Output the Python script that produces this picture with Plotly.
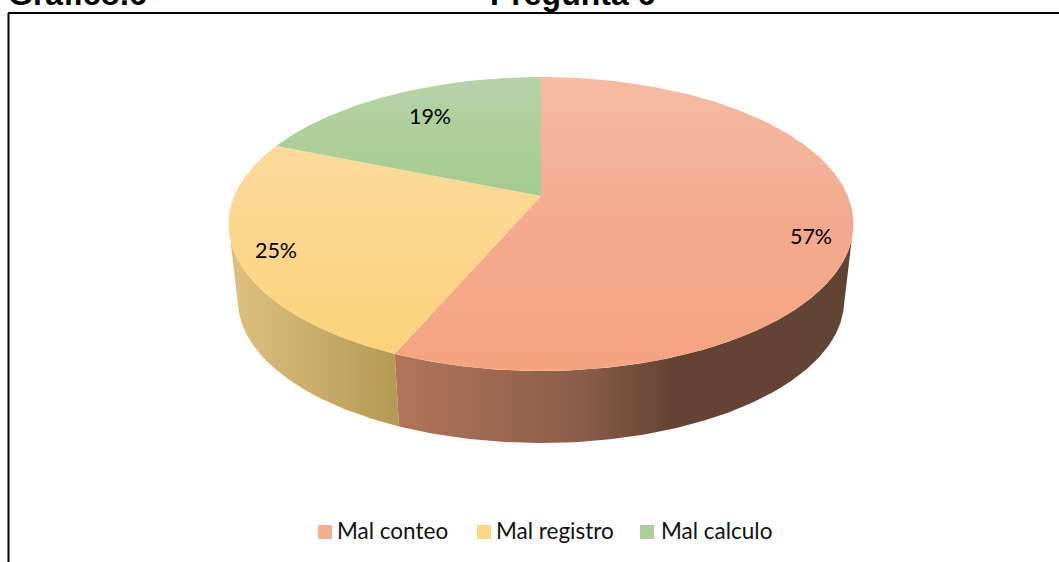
import numpy as np
import plotly.graph_objects as go

# ---- data ----
categories = ["Mal conteo", "Mal registro", "Mal calculo"]
values = [57, 25, 19]
value_labels = ["57%", "25%", "19%"]

# ---- styles ----
top_scales = [
    [[0, "#F4BCA3"], [0.5, "#F3AA8C"], [1, "#F5A381"]],
    [[0, "#FDDA9C"], [0.5, "#FCD68B"], [1, "#FBD27A"]],
    [[0, "#B6D3A7"], [1, "#A4CB8E"]],
]
legend_colors = ["#F6AE92", "#FDD788", "#ABCF96"]
FONT = "Lato"
W, H = 1059, 562

# perspective projection of the pie disc onto the page
CX, APEX_Y, RADIUS_X, RADIUS_Y, PERSP = 541, 196, 306.8, 104.3, -0.1905
BOTTOM_SCALE, BOTTOM_Y = 0.97, 273.3


def project(theta_deg, bottom=False):
    t = np.radians(theta_deg)
    u, v = np.sin(t), -np.cos(t)
    d = 1 + PERSP * v
    x, y = RADIUS_X * u / d, (APEX_Y + RADIUS_Y * v) / d - APEX_Y
    if bottom:
        return CX + BOTTOM_SCALE * x, BOTTOM_Y + BOTTOM_SCALE * y
    return CX + x, APEX_Y + y


edges = np.concatenate([[0], np.cumsum(values)]) / sum(values) * 360
fig = go.Figure()

# side walls (only the two front slices show one)
# (top arc start, top arc end, bottom arc start, bottom arc end, gradient)
walls = [
    (107, edges[1], 103, edges[1], 396, 850,
     [[0, "#B17459"], [0.41, "#8A5D49"], [0.61, "#634334"], [1, "#624434"]]),
    (edges[1], 253, edges[1], 257, 230, 400, [[0, "#DFC17F"], [1, "#B39852"]]),
]
for a_t, b_t, a_b, b_b, x0, x1, scale in walls:
    xt, yt = project(np.linspace(a_t, b_t, 160))
    xb, yb = project(np.linspace(b_b, a_b, 160), bottom=True)
    fig.add_trace(go.Scatter(
        x=np.concatenate([xt, xb]), y=np.concatenate([yt, yb]),
        mode="lines", line=dict(width=0), fill="toself",
        fillgradient=dict(type="horizontal", start=x0, stop=x1, colorscale=scale),
        hoverinfo="skip", showlegend=False))

# top face: each slice carries its own vertical gradient
for i, name in enumerate(categories):
    th = np.linspace(edges[i], edges[i + 1], 200)
    xs, ys = project(th)
    px = np.concatenate([[CX], xs, [CX]])
    py = np.concatenate([[APEX_Y], ys, [APEX_Y]])
    fig.add_trace(go.Scatter(
        x=px, y=py,
        mode="lines", line=dict(width=0), fill="toself",
        fillgradient=dict(type="vertical", start=float(py.min()), stop=float(py.max()),
                          colorscale=top_scales[i]),
        name=name, showlegend=False))

# value labels
label_x = [811, 276, 430]
label_y = [239, 253, 119]
fig.add_trace(go.Scatter(x=label_x, y=label_y, mode="text", text=value_labels,
                         textposition="middle center",
                         textfont=dict(family=FONT, size=21.5, color="#000000"),
                         hoverinfo="skip", showlegend=False))

# legend row
legend_x = [325, 484, 647]
legend_text_x = [337, 496, 661]
legend_y = [532, 532, 532]
legend_text_y = [533, 533, 533]
fig.add_trace(go.Scatter(x=legend_x, y=legend_y, mode="markers",
                         marker=dict(symbol="square", size=14, color=legend_colors),
                         hoverinfo="skip", showlegend=False))
fig.add_trace(go.Scatter(x=legend_text_x, y=legend_text_y, mode="text", text=categories,
                         textposition="middle right",
                         textfont=dict(family=FONT, size=22.5, color="#111111"),
                         hoverinfo="skip", showlegend=False))

fig.update_layout(
    width=W, height=H, margin=dict(l=0, r=0, t=0, b=0),
    paper_bgcolor="white", plot_bgcolor="white", showlegend=False,
    xaxis=dict(range=[0, W], visible=False, fixedrange=True),
    yaxis=dict(range=[H, 0], visible=False, fixedrange=True),
    shapes=[
        dict(type="line", x0=8, x1=W, y0=13, y1=13, line=dict(color="#000000", width=2)),
        dict(type="line", x0=8.5, x1=8.5, y0=13, y1=H, line=dict(color="#000000", width=2)),
    ],
    annotations=[
        dict(x=9, y=14, xanchor="left", yanchor="bottom", text="<b>Gráfico.6</b>", showarrow=False,
             xshift=-3, font=dict(family="Liberation Sans", size=32, color="#000000")),
        dict(x=491, y=14, xanchor="left", yanchor="bottom", text="<b>Pregunta 6</b>", showarrow=False,
             xshift=-3, font=dict(family="Liberation Sans", size=32, color="#000000")),
    ],
)
fig.write_html("out.html", config=dict(displayModeBar=False),
               post_script="document.body.style.margin='0';document.body.style.overflow='hidden';")
